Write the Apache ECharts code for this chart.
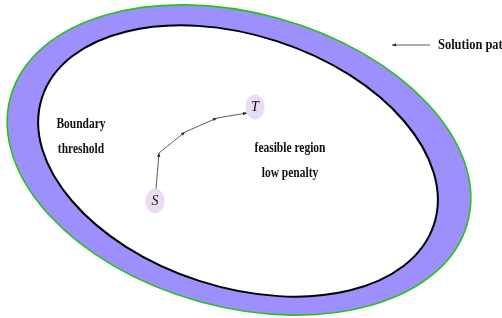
<!DOCTYPE html>
<html>
<head>
<meta charset="utf-8">
<script src="https://cdn.jsdelivr.net/npm/echarts@6/dist/echarts.min.js"></script>
<style>
  html, body { margin: 0; padding: 0; background: #fff; }
  #main { width: 502px; height: 318px; }
</style>
</head>
<body>
<div id="main"></div>
<script>
// band ellipses: outer (penalty band) and inner (feasible region)
var ringNames = ['band', 'feasible'];
var ringCx = [239, 238];
var ringCy = [160, 161];
var ringRx = [237, 206];
var ringRy = [147, 126];
var ringTilt = [15.4, 17.9];

// solution path from S to T
var pathX = [156, 159, 185, 217, 247];
var pathY = [189, 153, 132, 118, 113];

// endpoints
var nodeNames = ['S', 'T'];
var nodeX = [155, 255];
var nodeY = [201, 107];

// text labels
var labelTexts = ['Boundary', 'threshold', 'feasible region', 'low penalty'];
var labelX = [81, 81, 290, 290];
var labelY = [124, 149, 148, 173];

// legend arrow
var legendText = 'Solution path';
var legendArrowX = [430, 392];
var legendArrowY = [45, 45];

var chart = echarts.init(document.getElementById('main'));

var serifFont = '"Liberation Serif", "DejaVu Serif", serif';

function arrowHead(p0, p1, len, wid) {
    var dx = p1[0] - p0[0], dy = p1[1] - p0[1];
    var d = Math.sqrt(dx * dx + dy * dy) || 1;
    var ux = dx / d, uy = dy / d;
    var bx = p1[0] - ux * len, by = p1[1] - uy * len;
    return [p1, [bx - uy * wid, by + ux * wid], [bx + uy * wid, by - ux * wid]];
}

var option = {
    animation: false,
    backgroundColor: '#ffffff',
    grid: { left: 0, right: 0, top: 0, bottom: 0 },
    xAxis: { type: 'value', min: 0, max: 502, show: false },
    yAxis: { type: 'value', min: 0, max: 318, inverse: true, show: false },
    series: [{
        name: 'rings',
        type: 'custom',
        coordinateSystem: 'cartesian2d',
        data: ringNames.map(function(n, i) {
            return [ringCx[i], ringCy[i], ringRx[i], ringRy[i], ringTilt[i]];
        }),
        renderItem: function(params, api) {
            var c = api.coord([api.value(0), api.value(1)]);
            var s = api.size([api.value(2), api.value(3)]);
            var outer = params.dataIndex === 0;
            return {
                type: 'ellipse',
                x: c[0], y: c[1],
                rotation: -api.value(4) * Math.PI / 180,
                shape: { cx: 0, cy: 0, rx: s[0], ry: s[1] },
                style: outer ? { fill: '#9d8ffc', stroke: '#28c21c', lineWidth: 1.6 }
                             : { fill: '#ffffff', stroke: '#000000', lineWidth: 2 }
            };
        }
    }, {
        name: 'path',
        type: 'custom',
        coordinateSystem: 'cartesian2d',
        data: pathX.slice(1).map(function(x, i) {
            return [pathX[i], pathY[i], x, pathY[i + 1]];
        }),
        renderItem: function(params, api) {
            var a = api.coord([api.value(0), api.value(1)]);
            var b = api.coord([api.value(2), api.value(3)]);
            return {
                type: 'group',
                children: [{
                    type: 'line',
                    shape: { x1: a[0], y1: a[1], x2: b[0], y2: b[1] },
                    style: { stroke: '#333', lineWidth: 0.8 }
                }, {
                    type: 'polygon',
                    shape: { points: arrowHead(a, b, 4, 1.6) },
                    style: { fill: '#222' }
                }]
            };
        }
    }, {
        name: 'nodes',
        type: 'custom',
        coordinateSystem: 'cartesian2d',
        data: nodeNames.map(function(n, i) { return [nodeX[i], nodeY[i], n]; }),
        renderItem: function(params, api) {
            var c = api.coord([api.value(0), api.value(1)]);
            return {
                type: 'group',
                children: [{
                    type: 'ellipse',
                    shape: { cx: c[0], cy: c[1], rx: 9.5, ry: 12.5 },
                    style: { fill: '#eadcf3' }
                }, {
                    type: 'text',
                    x: c[0], y: c[1],
                    style: {
                        text: nodeNames[params.dataIndex],
                        font: 'italic 14px ' + serifFont,
                        fill: '#111', align: 'center', verticalAlign: 'middle'
                    }
                }]
            };
        }
    }, {
        name: 'labels',
        type: 'custom',
        coordinateSystem: 'cartesian2d',
        data: labelTexts.map(function(t, i) { return [labelX[i], labelY[i]]; }),
        renderItem: function(params, api) {
            var c = api.coord([api.value(0), api.value(1)]);
            return {
                type: 'text',
                x: c[0], y: c[1],
                scaleX: 0.82,
                style: {
                    text: labelTexts[params.dataIndex],
                    font: 'bold 14px ' + serifFont,
                    fill: '#111', align: 'center', verticalAlign: 'middle'
                }
            };
        }
    }, {
        name: 'legend',
        type: 'custom',
        coordinateSystem: 'cartesian2d',
        data: [[legendArrowX[0], legendArrowY[0], legendArrowX[1], legendArrowY[1]]],
        renderItem: function(params, api) {
            var a = api.coord([api.value(0), api.value(1)]);
            var b = api.coord([api.value(2), api.value(3)]);
            return {
                type: 'group',
                children: [{
                    type: 'line',
                    shape: { x1: a[0], y1: a[1], x2: b[0], y2: b[1] },
                    style: { stroke: '#333', lineWidth: 0.8 }
                }, {
                    type: 'polygon',
                    shape: { points: arrowHead(a, b, 4, 1.6) },
                    style: { fill: '#222' }
                }, {
                    type: 'text',
                    x: a[0] + 8, y: a[1],
                    scaleX: 0.89,
                    style: {
                        text: legendText,
                        font: 'bold 14px ' + serifFont,
                        fill: '#111', align: 'left', verticalAlign: 'middle'
                    }
                }]
            };
        }
    }]
};

chart.setOption(option);
</script>
</body>
</html>
